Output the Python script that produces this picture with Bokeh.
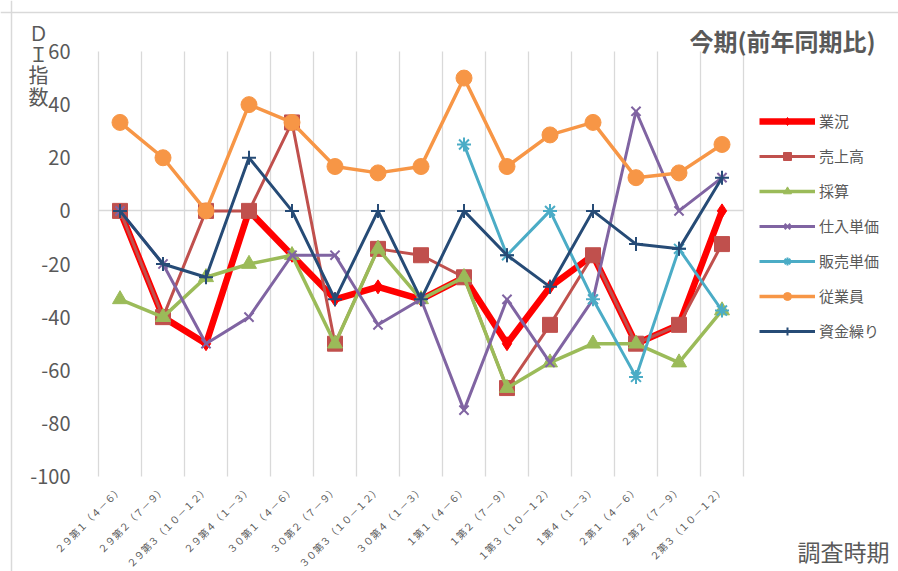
import numpy as np
from bokeh.plotting import figure
from bokeh.models import (Range1d, FixedTicker, Span, Label, Legend, LegendItem,
                          LinearAxis, Grid)
from bokeh.embed import file_html
from bokeh.resources import INLINE

nan = float("nan")

categories = ["２９第１（４－６）", "２９第２（７－９）", "２９第３（１０－１２）", "２９第４（１－３）",
              "３０第１（４－６）", "３０第２（７－９）", "３０第３（１０－１２）", "３０第４（１－３）",
              "１第１（４－６）", "１第２（７－９）", "１第３（１０－１２）", "１第４（１－３）",
              "２第１（４－６）", "２第２（７－９）", "２第３（１０－１２）"]

gyoukyou = [0, -40, -50, 0, -16.7, -33.3, -28.6, -33.3, -25, -50, -28.6, -16.7, -50, -42.9, 0]
uriage = [0, -40, 0, 0, 33.3, -50, -14.3, -16.7, -25, -66.7, -42.9, -16.7, -50, -42.9, -12.5]
saisan = [-33.3, -40, -25, -20, -16.7, -50, -14.3, -33.3, -25, -66.7, -57.1, -50, -50, -57.1, -37.5]
shiire = [0, -20, -50, -40, -16.7, -16.7, -42.9, -33.3, -75, -33.3, -57.1, -33.3, 37.5, 0, 12.5]
hanbai = [nan, nan, nan, nan, nan, nan, nan, nan, 25, -16.7, 0, -33.3, -62.5, -14.3, -37.5]
juugyouin = [33.3, 20, 0, 40, 33.3, 16.7, 14.3, 16.7, 50, 16.7, 28.6, 33.3, 12.5, 14.3, 25]
shikin = [0, -20, -25, 20, 0, -33.3, 0, -33.3, 0, -16.7, -28.6, 0, -12.5, -14.3, 12.5]

series_names = ["業況", "売上高", "採算", "仕入単価", "販売単価", "従業員", "資金繰り"]
y_ticks = [-100, -80, -60, -40, -20, 0, 20, 40, 60]

FONT = "Noto Sans CJK JP"
GRAY = "#595959"
GRID = "#d9d9d9"

# layout (pixels) of the plotting area inside the 898x571 canvas
W, H = 898, 571
PL, PR, PT, PB = 98, 743, 51, 476
n = len(categories)
ymin, ymax = min(y_ticks), max(y_ticks)
xs_per_px = n / (PR - PL)
ys_per_px = (ymax - ymin) / (PB - PT)

def dx(px):
    return -0.5 + (px - PL) * xs_per_px

def dy(py):
    return ymax - (py - PT) * ys_per_px

p = figure(width=W, height=H, output_backend="svg", toolbar_location=None,
           x_range=Range1d(dx(0), dx(W)), y_range=Range1d(dy(H), dy(0)),
           min_border=0, min_border_left=0, min_border_right=0, min_border_top=0, min_border_bottom=0)
p.outline_line_color = None
p.background_fill_color = "white"
p.border_fill_color = "white"

xs = list(range(n))
bounds_x = [i - 0.5 for i in range(n + 1)]

# x axis (labels at the bottom of the plotting area)
p.xaxis.fixed_location = ymin
p.xaxis.ticker = FixedTicker(ticks=xs)
p.xaxis.major_label_overrides = {i: c for i, c in enumerate(categories)}
p.xaxis.major_label_orientation = np.pi / 4
p.xaxis.major_label_text_font = FONT
p.xaxis.major_label_text_font_size = "10px"
p.xaxis.major_label_text_color = GRAY
p.xaxis.axis_line_color = None
p.xaxis.major_tick_line_color = None
p.xaxis.minor_tick_line_color = None
p.xaxis.major_label_standoff = 5

# y axis
p.yaxis.fixed_location = -0.5
p.yaxis.ticker = FixedTicker(ticks=y_ticks)
p.yaxis.major_label_overrides = {t: str(t) for t in y_ticks}
p.yaxis.major_label_text_font = FONT
p.yaxis.major_label_text_font_size = "20px"
p.yaxis.major_label_text_color = GRAY
p.yaxis.axis_line_color = None
p.yaxis.major_tick_line_color = None
p.yaxis.minor_tick_line_color = None
p.yaxis.major_label_standoff = 22

# zero line (category axis crossing at 0)
zero_axis = LinearAxis(fixed_location=0, bounds=(-0.5, n - 0.5), ticker=FixedTicker(ticks=[]),
                       axis_line_color=GRID, axis_line_width=1.5,
                       major_tick_line_color=None, minor_tick_line_color=None,
                       major_label_text_font_size="0px", level="underlay")
p.add_layout(zero_axis, "below")

# vertical gridlines between categories
p.ygrid.grid_line_color = None
if "cross_bounds" in Grid.properties():
    p.xgrid.ticker = FixedTicker(ticks=bounds_x)
    p.xgrid.cross_bounds = (ymin, ymax)
    p.xgrid.grid_line_color = GRID
    p.xgrid.grid_line_width = 1.3
else:
    p.xgrid.grid_line_color = None
    p.segment(x0=bounds_x, y0=[ymin] * len(bounds_x), x1=bounds_x, y1=[ymax] * len(bounds_x),
              line_color=GRID, line_width=1.3, level="underlay")

# chart border (top and left edges visible)
p.add_layout(Span(location=dx(11), dimension="height", line_color=GRID, line_width=1.5))
p.add_layout(Span(location=dy(12), dimension="width", line_color=GRID, line_width=1.5))

styles = [
    ("#ff0000", 6.5, "diamond", 14, 1),
    ("#c0504d", 3, "square", 15, 1),
    ("#9bbb59", 3.5, "triangle", 15, 1),
    ("#8064a2", 3, "x", 13, 2),
    ("#4bacc6", 3, "asterisk", 14, 2),
    ("#f79646", 3.5, "circle", 16, 1),
    ("#264b76", 3, "cross", 14, 2),
]
data = [gyoukyou, uriage, saisan, shiire, hanbai, juugyouin, shikin]

items = []
for name, vals, (col, lw, mk, ms, mlw) in zip(series_names, data, styles):
    lr = p.line(xs, vals, line_color=col, line_width=lw)
    sr = p.scatter(xs, vals, marker=mk, size=ms, fill_color=col, line_color=col, line_width=mlw)
    items.append(LegendItem(label=name, renderers=[lr, sr]))

legend = Legend(items=items, location=(759, H - 341), orientation="vertical",
                glyph_width=56, glyph_height=20, label_height=20, spacing=14,
                label_standoff=4, padding=0, margin=0,
                label_text_font=FONT, label_text_font_size="15px", label_text_color=GRAY,
                border_line_color=None, background_fill_alpha=0)
p.add_layout(legend)

p.add_layout(Label(x=dx(782), y=dy(40), text="今期(前年同期比)", text_font=FONT, text_font_size="24px",
                   text_font_style="bold", text_color=GRAY, text_align="center", text_baseline="middle"))
p.add_layout(Label(x=dx(843), y=dy(550), text="調査時期", text_font=FONT, text_font_size="23px",
                   text_color=GRAY, text_align="center", text_baseline="middle"))
for ch, py in zip(["Ｄ", "Ｉ", "指", "数"], [32, 53, 74, 96]):
    p.add_layout(Label(x=dx(38), y=dy(py), text=ch, text_font=FONT, text_font_size="20px",
                       text_color=GRAY, text_align="center", text_baseline="middle"))

open("out.html", "w").write(file_html(p, INLINE))
